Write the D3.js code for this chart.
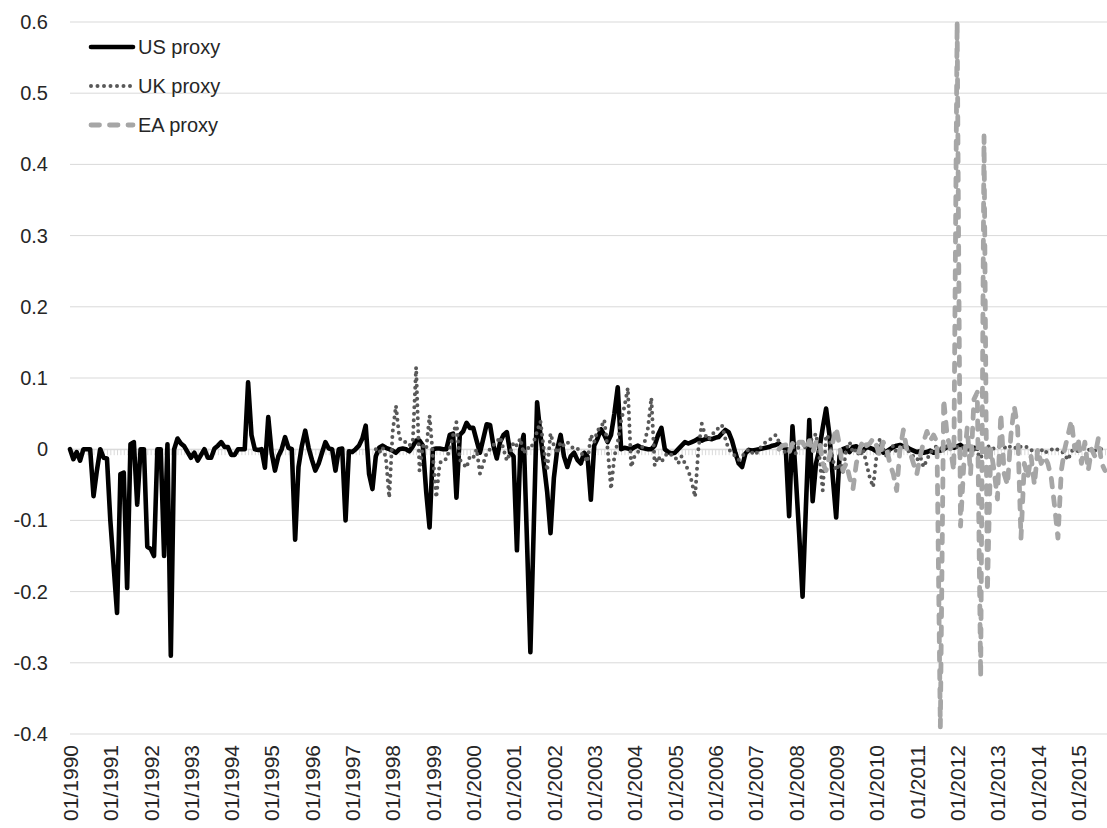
<!DOCTYPE html>
<html>
<head>
<meta charset="utf-8">
<script src="https://cdn.jsdelivr.net/npm/d3@7"></script>
<style>
  html, body { margin: 0; padding: 0; background: #fff; }
  svg { display: block; font-family: 'Liberation Sans', Arial, sans-serif; }
</style>
</head>
<body>
<div id="chart"></div>
<script>
// monthly observations, each series starts at its own first month
const usStart = '01/1990'
const ukStart = '08/1997'
const eaStart = '08/2007'
const lastMonth = '09/2015'

const usProxy = [
  0.000, -0.014, -0.004, -0.016, 0.000, 0.000, 0.000, -0.066, -0.030, 0.000, -0.012, -0.013,
  -0.100, -0.165, -0.230, -0.035, -0.033, -0.195, 0.007, 0.010, -0.078, 0.000, 0.000, -0.137,
  -0.140, -0.150, 0.000, 0.000, -0.150, 0.007, -0.290, 0.000, 0.015, 0.008, 0.004, -0.004,
  -0.012, -0.005, -0.016, -0.008, 0.000, -0.012, -0.012, 0.001, 0.005, 0.010, 0.003, 0.003,
  -0.008, -0.008, 0.000, 0.000, 0.000, 0.094, 0.020, 0.000, -0.001, 0.000, -0.026, 0.045,
  -0.005, -0.030, -0.010, 0.000, 0.017, 0.002, 0.000, -0.127, -0.025, 0.005, 0.026, 0.002,
  -0.015, -0.030, -0.020, -0.005, 0.010, 0.001, 0.000, -0.030, 0.000, 0.001, -0.100, -0.003,
  -0.004, 0.000, 0.005, 0.015, 0.033, -0.035, -0.056, -0.010, 0.002, 0.005, 0.002, 0.000,
  -0.002, -0.005, 0.000, 0.001, 0.000, -0.003, 0.004, 0.012, 0.012, 0.005, -0.060, -0.110,
  0.000, 0.001, 0.001, 0.000, 0.000, 0.020, 0.022, -0.068, 0.020, 0.025, 0.037, 0.030,
  0.030, 0.012, -0.005, 0.015, 0.035, 0.034, 0.005, -0.013, 0.010, 0.020, 0.024, -0.005,
  -0.010, -0.142, 0.000, 0.020, -0.130, -0.285, -0.110, 0.066, 0.020, -0.020, -0.060, -0.118,
  -0.040, 0.000, 0.020, -0.010, -0.025, -0.010, -0.005, -0.015, -0.020, -0.005, -0.010, -0.071,
  0.005, 0.015, 0.028, 0.020, 0.010, 0.020, 0.050, 0.087, 0.000, 0.002, 0.001, 0.000,
  0.003, 0.005, 0.002, 0.001, 0.000, 0.000, 0.005, 0.020, 0.030, 0.000, -0.004, -0.006,
  -0.005, 0.000, 0.005, 0.010, 0.008, 0.010, 0.012, 0.015, 0.012, 0.014, 0.015, 0.014,
  0.016, 0.017, 0.022, 0.027, 0.024, 0.012, -0.005, -0.020, -0.025, -0.006, -0.001, -0.002,
  -0.001, 0.000, 0.001, 0.002, 0.003, 0.005, 0.006, 0.008, 0.003, 0.001, -0.094, 0.032,
  -0.040, -0.120, -0.207, -0.080, 0.041, -0.073, -0.020, 0.000, 0.030, 0.057, 0.020, -0.040,
  -0.096, -0.010, 0.000, 0.002, -0.004, 0.003, 0.004, 0.000, -0.002, 0.003, 0.002, 0.000,
  -0.003, 0.000, -0.005, -0.003, 0.000, 0.003, 0.005, 0.006, 0.004, 0.003, 0.000, -0.002,
  -0.004, -0.003, -0.005, -0.004, -0.002, -0.005, -0.003, -0.002, 0.000, 0.003, 0.005, 0.002,
  0.004, 0.006, 0.002, 0.003, 0.000, 0.002, 0.001
]

const ukProxy = [
  0.000, -0.005, 0.003, -0.012, -0.068, 0.024, 0.061, 0.016, 0.010, 0.010, 0.005, 0.010,
  0.115, -0.030, 0.005, 0.000, 0.047, -0.010, -0.068, -0.020, -0.014, -0.014, 0.000, 0.020,
  0.038, -0.015, -0.020, -0.026, -0.010, -0.012, 0.000, -0.034, -0.020, -0.005, 0.000, 0.006,
  0.010, 0.017, 0.000, -0.016, -0.005, 0.010, 0.005, 0.015, -0.006, 0.003, 0.000, 0.010,
  0.025, 0.039, 0.000, -0.030, 0.022, 0.005, -0.006, 0.010, 0.005, 0.010, 0.005, 0.000,
  0.001, -0.005, -0.010, -0.018, 0.020, 0.010, 0.027, 0.030, 0.041, 0.000, -0.056, -0.010,
  0.010, 0.040, 0.060, 0.086, -0.025, -0.010, -0.004, 0.000, 0.010, 0.030, 0.072, -0.023,
  -0.010, -0.018, -0.010, -0.005, -0.008, -0.010, -0.020, -0.010, -0.020, -0.030, -0.045, -0.067,
  0.000, 0.036, 0.020, 0.013, 0.020, 0.025, 0.030, 0.034, 0.015, 0.000, -0.005, -0.010,
  -0.015, -0.010, -0.005, 0.000, -0.005, -0.008, 0.000, 0.005, 0.010, 0.012, 0.017, 0.020,
  0.010, 0.000, -0.005, 0.000, 0.005, -0.006, 0.005, 0.010, 0.000, 0.010, 0.015, 0.022,
  -0.010, -0.058, 0.020, 0.015, -0.015, -0.030, -0.020, -0.032, 0.000, 0.010, -0.005, 0.000,
  -0.010, 0.000, -0.020, -0.040, -0.053, -0.010, 0.015, 0.000, -0.010, 0.000, 0.005, -0.005,
  0.000, 0.005, 0.000, -0.005, -0.010, -0.015, -0.010, -0.025, -0.015, -0.005, 0.000, 0.005,
  0.002, 0.000, 0.005, 0.002, 0.000, 0.003, 0.005, 0.000, 0.000, -0.002, 0.000, -0.005,
  -0.013, 0.000, 0.003, 0.005, 0.000, 0.002, 0.005, 0.003, 0.000, 0.005, 0.003, 0.000,
  0.004, 0.005, 0.002, -0.002, 0.000, -0.004, 0.000, -0.006, -0.002, 0.000, -0.003, 0.000,
  -0.002, -0.008, -0.015, -0.003, 0.000, -0.003, 0.000, 0.002, -0.001, 0.000, -0.002, 0.001,
  0.000, -0.003
]

const eaProxy = [
  0.000, 0.005, 0.006, -0.005, 0.008, 0.002, 0.010, 0.010, 0.000, 0.012, -0.005, 0.010,
  0.013, -0.020, -0.030, -0.010, 0.010, 0.030, 0.005, -0.030, -0.020, -0.040, -0.056, -0.020,
  0.000, 0.013, 0.005, 0.008, 0.015, 0.005, -0.010, 0.010, 0.000, -0.020, -0.035, -0.058,
  0.000, 0.027, 0.000, -0.005, -0.020, -0.035, -0.010, 0.010, 0.025, 0.012, 0.020, 0.010,
  -0.390, 0.070, 0.020, 0.000, -0.030, 0.600, -0.108, -0.020, 0.030, -0.035, 0.070, 0.080,
  -0.320, 0.440, -0.200, 0.000, -0.030, -0.070, 0.050, -0.035, -0.050, 0.020, 0.060, 0.030,
  -0.125, -0.020, -0.040, -0.010, -0.050, 0.000, -0.020, -0.010, -0.020, -0.040, -0.080, -0.125,
  -0.030, 0.000, 0.020, 0.040, 0.000, 0.015, -0.020, 0.010, -0.030, 0.000, -0.010, 0.015,
  -0.020, -0.030
]

const yTicks = [-0.4, -0.3, -0.2, -0.1, 0, 0.1, 0.2, 0.3, 0.4, 0.5, 0.6]

const seriesNames = ['US proxy', 'UK proxy', 'EA proxy']
const seriesColor = { 'US proxy': '#000000', 'UK proxy': '#595959', 'EA proxy': '#a6a6a6' }

// category labels
const parseM = d3.timeParse('%m/%Y')
const fmtM = d3.timeFormat('%m/%Y')
const months = d3.timeMonth.range(parseM(usStart), d3.timeMonth.offset(parseM(lastMonth), 1)).map(fmtM)
const yearLabels = months.filter(m => m.startsWith('01/'))

function toPoints(start, values) {
  const i0 = months.indexOf(start)
  return values.map((v, i) => ({ m: months[i0 + i], v })).filter(d => d.m)
}

const data = {
  'US proxy': toPoints(usStart, usProxy),
  'UK proxy': toPoints(ukStart, ukProxy),
  'EA proxy': toPoints(eaStart, eaProxy),
}

const W = 1107, H = 828
const plotBox = { left: 70, right: 1105, top: 22, bottom: 734 }

const svg = d3.select('#chart').append('svg')
  .attr('width', W).attr('height', H)

svg.append('rect').attr('width', W).attr('height', H).attr('fill', '#fff')

const x = d3.scalePoint().domain(months).range([plotBox.left, plotBox.right])
const y = d3.scaleLinear().domain([-0.4, 0.6]).range([plotBox.bottom, plotBox.top])

// gridlines
svg.append('g')
  .selectAll('line')
  .data(yTicks)
  .join('line')
  .attr('x1', plotBox.left).attr('x2', W)
  .attr('y1', d => y(d)).attr('y2', d => y(d))
  .attr('stroke', '#d9d9d9').attr('stroke-width', 1)

// y axis labels
const yAxis = svg.append('g')
  .attr('transform', `translate(${plotBox.left},0)`)
  .call(d3.axisLeft(y).tickValues(yTicks).tickSize(0).tickPadding(22)
    .tickFormat(d => d === 0 ? '0' : d.toFixed(1)))
yAxis.select('.domain').remove()
yAxis.selectAll('text')
  .attr('fill', '#262626')
  .attr('font-size', '20px')
  .attr('font-family', "'Liberation Sans', Arial, sans-serif")

// category axis crossing at zero, a tick per month
const xAxis0 = svg.append('g')
  .attr('transform', `translate(0,${y(0)})`)
  .call(d3.axisBottom(x).tickValues(months).tickSize(6).tickFormat(''))
xAxis0.selectAll('line, path').attr('stroke', '#d9d9d9')

// year labels at the bottom
const xAxis = svg.append('g')
  .attr('transform', `translate(0,${plotBox.bottom})`)
  .call(d3.axisBottom(x).tickValues(yearLabels).tickSize(0))
xAxis.select('.domain').remove()
xAxis.selectAll('text')
  .attr('transform', 'rotate(-90)')
  .attr('x', -11).attr('y', 0).attr('dy', '0.35em')
  .attr('text-anchor', 'end')
  .attr('fill', '#262626')
  .attr('font-size', '21px')
  .attr('font-family', "'Liberation Sans', Arial, sans-serif")

const line = d3.line()
  .x(d => x(d.m))
  .y(d => y(d.v))

const style = {
  'US proxy': { w: 4.6, dash: null, cap: 'round' },
  'UK proxy': { w: 4, dash: '0 6.5', cap: 'round' },
  'EA proxy': { w: 4.8, dash: '8.5 10', cap: 'round' },
}

const plot = svg.append('g')
seriesNames.forEach(k => {
  plot.append('path')
    .datum(data[k])
    .attr('d', line)
    .attr('fill', 'none')
    .attr('stroke', seriesColor[k])
    .attr('stroke-width', style[k].w)
    .attr('stroke-linejoin', 'round')
    .attr('stroke-linecap', style[k].cap)
    .attr('stroke-dasharray', style[k].dash)
})

// legend
const legend = svg.append('g')
const legY = [47, 86, 125]
seriesNames.forEach((k, i) => {
  const row = legend.append('g').attr('transform', `translate(0,${legY[i]})`)
  row.append('line')
    .attr('x1', 91).attr('x2', 133)
    .attr('stroke', seriesColor[k])
    .attr('stroke-width', style[k].w)
    .attr('stroke-linecap', style[k].cap)
    .attr('stroke-dasharray', style[k].dash)
  row.append('text')
    .attr('x', 138).attr('y', 0).attr('dy', '0.35em')
    .attr('fill', '#262626')
    .attr('font-size', '20px')
    .text(k)
})
</script>
</body>
</html>
